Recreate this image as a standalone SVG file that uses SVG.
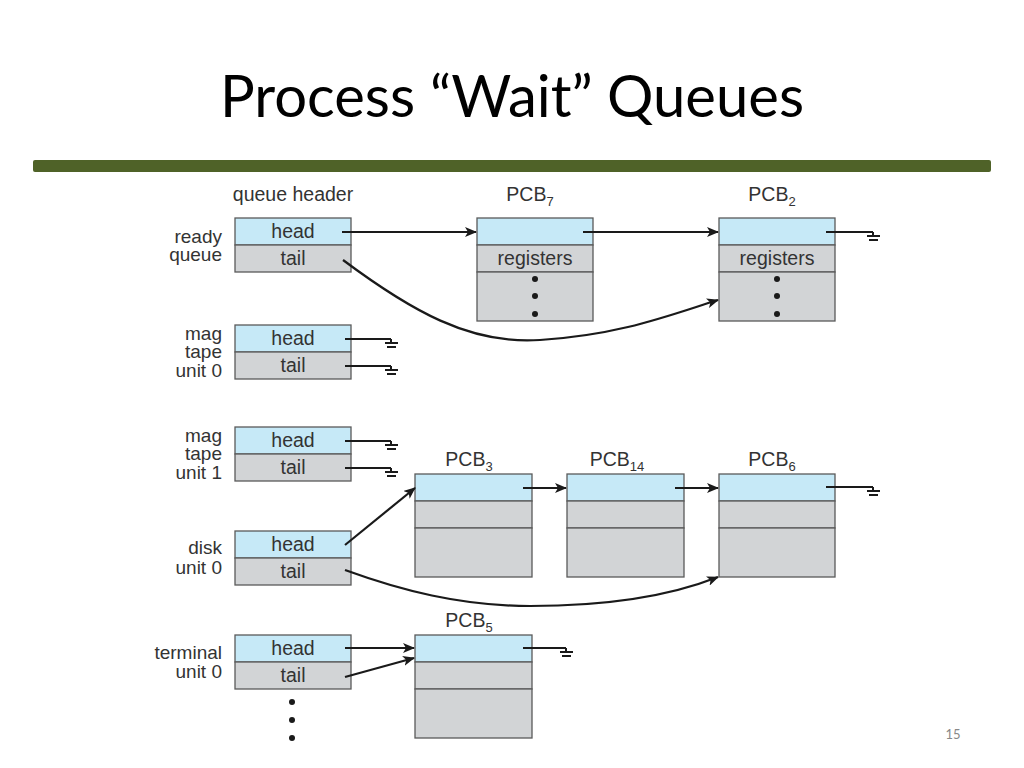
<svg xmlns="http://www.w3.org/2000/svg" width="1024" height="768" viewBox="0 0 1024 768">
<style>
.t{font-family:"Liberation Sans",Arial,sans-serif;font-size:19.5px;fill:#333}
.l{font-size:19px}
.c{text-anchor:middle}
.r{text-anchor:end}
.s{font-size:13px;fill:#333}
.b{fill:#c6e9f7;stroke:#5a5a5a;stroke-width:1.3}
.g{fill:#d2d4d6;stroke:#5a5a5a;stroke-width:1.3}
.w{fill:none;stroke:#1a1a1a;stroke-width:2.2}
.d{fill:#1a1a1a}
</style>
<defs>
<marker id="ah" viewBox="0 0 12 10" refX="11" refY="5" markerWidth="12" markerHeight="10" markerUnits="userSpaceOnUse" orient="auto">
<path d="M0,0 L12,5 L0,10 L3,5 Z" fill="#1a1a1a"/>
</marker>
<g id="gnd"><path d="M-6,0 V4 M-12,4 H1 M-10,8 H-1" fill="none" stroke="#1a1a1a" stroke-width="2"/></g>
</defs>
<rect width="1024" height="768" fill="#fff"/>
<text x="512" y="117" text-anchor="middle" style="font-family:Lato,'Open Sans',sans-serif;font-size:58px;fill:#000">Process “Wait” Queues</text>
<rect x="33" y="160" width="958" height="12" rx="2" fill="#4f6228"/>
<text x="953" y="739" text-anchor="middle" style="font-family:Lato,sans-serif;font-size:13px;fill:#888">15</text>

<text class="t c" x="293" y="201">queue header</text>

<g id="ready">
<text class="t l r" x="222" y="243">ready</text><text class="t l r" x="222" y="261">queue</text>
<rect class="b" x="235" y="218" width="116" height="27"/><rect class="g" x="235" y="245" width="116" height="27"/>
<text class="t c" x="293" y="238">head</text><text class="t c" x="293" y="265">tail</text>
</g>
<g id="mag0">
<text class="t l r" x="222" y="340">mag</text><text class="t l r" x="222" y="358">tape</text><text class="t l r" x="222" y="377">unit 0</text>
<rect class="b" x="235" y="325" width="116" height="27"/><rect class="g" x="235" y="352" width="116" height="27"/>
<text class="t c" x="293" y="345">head</text><text class="t c" x="293" y="372">tail</text>
</g>
<g id="mag1">
<text class="t l r" x="222" y="442">mag</text><text class="t l r" x="222" y="460">tape</text><text class="t l r" x="222" y="479">unit 1</text>
<rect class="b" x="235" y="427" width="116" height="27"/><rect class="g" x="235" y="454" width="116" height="27"/>
<text class="t c" x="293" y="447">head</text><text class="t c" x="293" y="474">tail</text>
</g>
<g id="disk">
<text class="t l r" x="222" y="554">disk</text><text class="t l r" x="222" y="574">unit 0</text>
<rect class="b" x="235" y="531" width="116" height="27"/><rect class="g" x="235" y="558" width="116" height="27"/>
<text class="t c" x="293" y="551">head</text><text class="t c" x="293" y="578">tail</text>
</g>
<g id="terminal">
<text class="t l r" x="222" y="659">terminal</text><text class="t l r" x="222" y="678">unit 0</text>
<rect class="b" x="235" y="635" width="116" height="27"/><rect class="g" x="235" y="662" width="116" height="27"/>
<text class="t c" x="293" y="655">head</text><text class="t c" x="293" y="682">tail</text>
<circle class="d" cx="292" cy="702" r="3"/><circle class="d" cx="292" cy="720" r="3"/><circle class="d" cx="292" cy="738" r="3"/>
</g>

<g id="pcb7">
<text class="t c" x="530" y="201">PCB<tspan class="s" dy="5">7</tspan></text>
<rect class="b" x="477" y="218" width="116" height="27"/><rect class="g" x="477" y="245" width="116" height="27"/><rect class="g" x="477" y="272" width="116" height="49"/>
<text class="t c" x="535" y="265">registers</text>
<circle class="d" cx="535" cy="279" r="3"/><circle class="d" cx="535" cy="296" r="3"/><circle class="d" cx="535" cy="314" r="3"/>
</g>
<g id="pcb2">
<text class="t c" x="772" y="201">PCB<tspan class="s" dy="5">2</tspan></text>
<rect class="b" x="719" y="218" width="116" height="27"/><rect class="g" x="719" y="245" width="116" height="27"/><rect class="g" x="719" y="272" width="116" height="49"/>
<text class="t c" x="777" y="265">registers</text>
<circle class="d" cx="777" cy="279" r="3"/><circle class="d" cx="777" cy="296" r="3"/><circle class="d" cx="777" cy="314" r="3"/>
</g>
<g id="pcb3">
<text class="t c" x="469" y="466">PCB<tspan class="s" dy="5">3</tspan></text>
<rect class="b" x="415" y="474" width="117" height="27"/><rect class="g" x="415" y="501" width="117" height="27"/><rect class="g" x="415" y="528" width="117" height="49"/>
</g>
<g id="pcb14">
<text class="t c" x="617" y="466">PCB<tspan class="s" dy="5">14</tspan></text>
<rect class="b" x="567" y="474" width="117" height="27"/><rect class="g" x="567" y="501" width="117" height="27"/><rect class="g" x="567" y="528" width="117" height="49"/>
</g>
<g id="pcb6">
<text class="t c" x="772" y="466">PCB<tspan class="s" dy="5">6</tspan></text>
<rect class="b" x="719" y="474" width="116" height="27"/><rect class="g" x="719" y="501" width="116" height="27"/><rect class="g" x="719" y="528" width="116" height="49"/>
</g>
<g id="pcb5">
<text class="t c" x="469" y="627">PCB<tspan class="s" dy="5">5</tspan></text>
<rect class="b" x="415" y="635" width="117" height="27"/><rect class="g" x="415" y="662" width="117" height="27"/><rect class="g" x="415" y="689" width="117" height="49"/>
</g>

<g id="connectors">
<path class="w" d="M342,232 H476" marker-end="url(#ah)"/>
<path class="w" d="M583,232 H718" marker-end="url(#ah)"/>
<path class="w" d="M826,232 H873"/><use href="#gnd" x="879" y="232"/>
<path class="w" d="M343,260 C410,310 470,345 540,340 C620,335 670,315 718,300" marker-end="url(#ah)"/>
<path class="w" d="M345,339 H391"/><use href="#gnd" x="397" y="339"/>
<path class="w" d="M345,366 H391"/><use href="#gnd" x="397" y="366"/>
<path class="w" d="M345,441 H391"/><use href="#gnd" x="397" y="441"/>
<path class="w" d="M345,468 H391"/><use href="#gnd" x="397" y="468"/>
<path class="w" d="M345,545 L415,488" marker-end="url(#ah)"/>
<path class="w" d="M523,488 H566" marker-end="url(#ah)"/>
<path class="w" d="M675,488 H718" marker-end="url(#ah)"/>
<path class="w" d="M826,487 H873"/><use href="#gnd" x="879" y="487"/>
<path class="w" d="M345,570 C400,590 460,606 530,606 C620,606 680,592 718,577" marker-end="url(#ah)"/>
<path class="w" d="M345,648 H414" marker-end="url(#ah)"/>
<path class="w" d="M345,677 L414,658" marker-end="url(#ah)"/>
<path class="w" d="M523,648 H566"/><use href="#gnd" x="572" y="648"/>
</g>
</svg>
